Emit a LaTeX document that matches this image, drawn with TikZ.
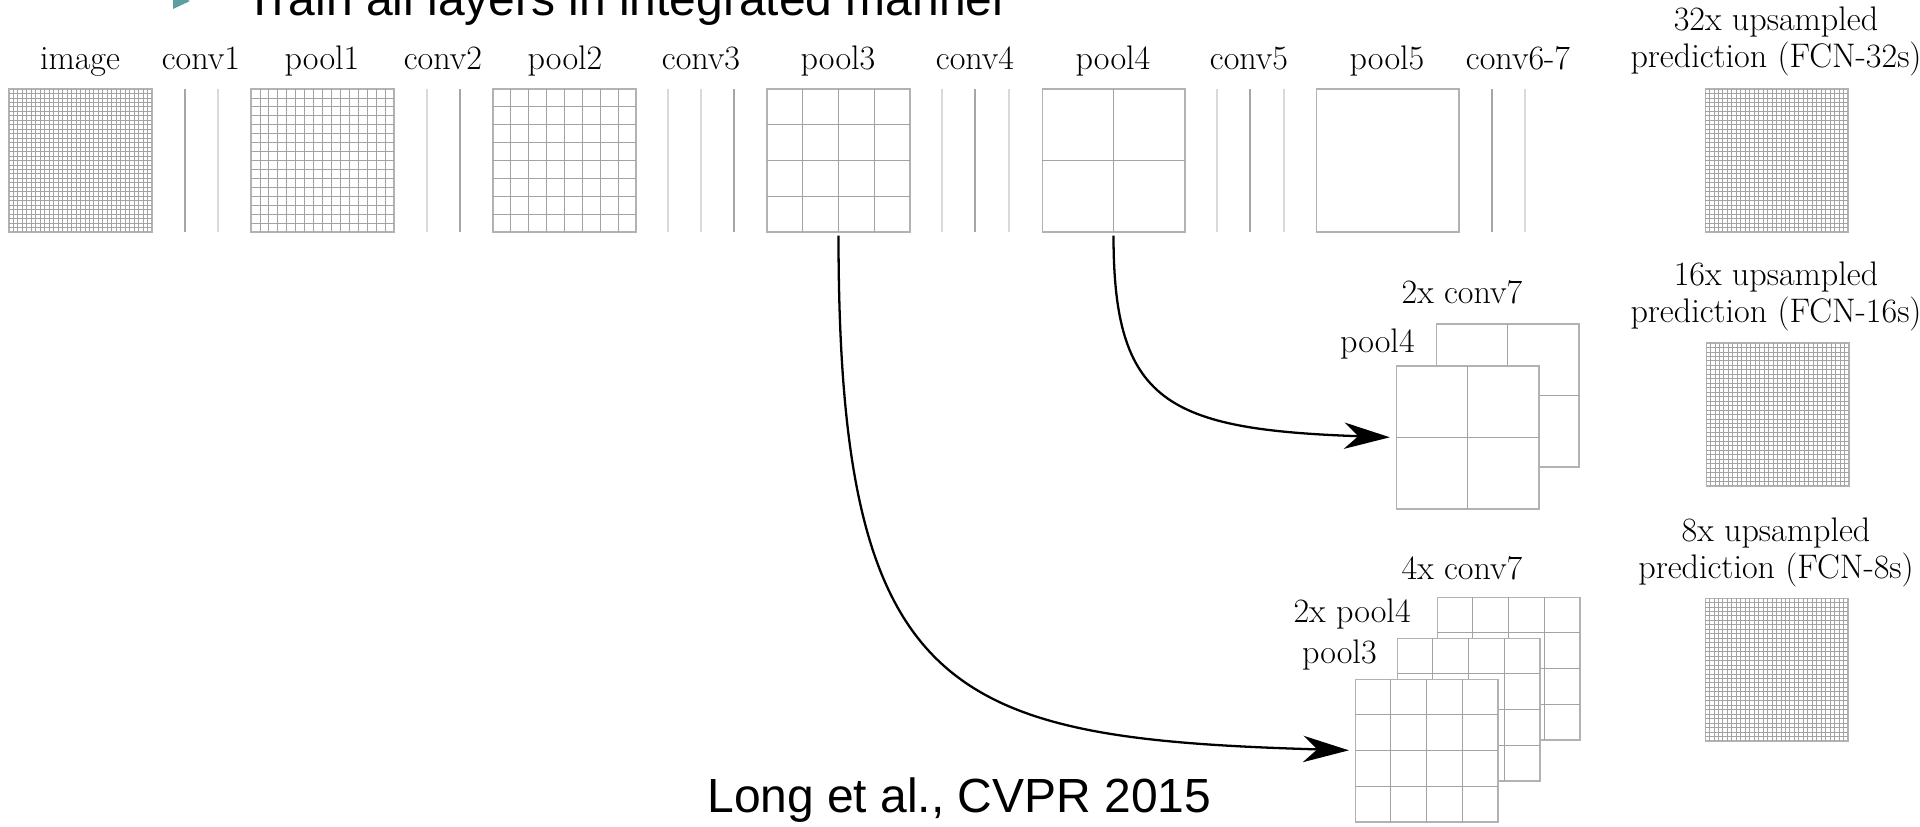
\documentclass[tikz,border=0pt]{standalone}
\usepackage{fontspec}
\newfontfamily\liber{Liberation Sans}
\usetikzlibrary{arrows.meta}
\definecolor{bulletteal}{RGB}{95,158,160}
\tikzset{
  fmap/.style={draw=gray!60, fill=white, minimum size=2.86cm, inner sep=0pt, outer sep=0pt, line width=0.6pt},
  gridline/.style={draw=gray!72, line width=0.5pt},
  convdark/.style={draw=gray!70, line width=0.7pt},
  convlight/.style={draw=gray!30, line width=0.7pt},
  lab/.style={font=\fontsize{19.4}{23}\selectfont, anchor=base, inner sep=0pt},
  labr/.style={font=\fontsize{19.4}{23}\selectfont, anchor=base east, inner sep=0pt},
  big/.style={font=\liber\fontsize{27.3}{32}\selectfont, anchor=base west, inner sep=0pt},
  skip/.style={draw=black, line width=1.3pt, shorten <=2pt, shorten >=3.5pt,
    -{Stealth[length=26pt, width=15pt, inset=8pt]}}
}
\newcommand\fcnmap[4]{%
  \node[fmap] (#1) at ({#2+71.5},{#3+71.5}) {};
  \ifnum#4>1
    \pgfmathtruncatemacro\fcnn{#4-1}%
    \foreach \k in {1,...,\fcnn}{
      \draw[gridline] ({#2+\k*143/#4},#3) -- ({#2+\k*143/#4},{#3+143});
      \draw[gridline] (#2,{#3+\k*143/#4}) -- ({#2+143},{#3+\k*143/#4});
    }
  \fi
}
\begin{document}
\begin{tikzpicture}[x=0.02cm,y=-0.02cm]
\useasboundingbox (0,0) rectangle (1920,826);
% title (cut off at the top)
\fill[bulletteal] (173,-7) -- (173,9) -- (190,1) -- cycle;
\node[big] (title) at (245,15) {Train all layers in integrated manner};
\node[big] (cite) at (707,812) {Long et al., CVPR 2015};

% top row of feature maps
\fcnmap{image}{9}{89}{32}
\fcnmap{pool1}{251}{89}{16}
\fcnmap{pool2}{493}{89}{8}
\fcnmap{pool3}{767}{89}{4}
\fcnmap{pool4}{1042}{89}{2}
\fcnmap{pool5}{1316}{89}{1}
\fcnmap{pred32}{1705}{89}{32}

% conv layers seen edge-on
\draw[convdark] (185,89) -- (185,232);
\draw[convlight] (218,89) -- (218,232);
\draw[convlight] (427,89) -- (427,232);
\draw[convdark] (460,89) -- (460,232);
\draw[convlight] (668,89) -- (668,232);
\draw[convlight] (701,89) -- (701,232);
\draw[convdark] (734,89) -- (734,232);
\draw[convlight] (942,89) -- (942,232);
\draw[convdark] (975,89) -- (975,232);
\draw[convlight] (1009,89) -- (1009,232);
\draw[convlight] (1217,89) -- (1217,232);
\draw[convdark] (1250,89) -- (1250,232);
\draw[convlight] (1284,89) -- (1284,232);
\draw[convdark] (1492,89) -- (1492,232);
\draw[convlight] (1525,89) -- (1525,232);

% top labels
\node[lab] (lImage) at (80,69) {image};
\node[lab] (lConv1) at (201,69) {conv1};
\node[lab] (lPool1) at (322,69) {pool1};
\node[lab] (lConv2) at (443,69) {conv2};
\node[lab] (lPool2) at (565,69) {pool2};
\node[lab] (lConv3) at (701,69) {conv3};
\node[lab] (lPool3) at (838,69) {pool3};
\node[lab] (lConv4) at (975,69) {conv4};
\node[lab] (lPool4) at (1113,69) {pool4};
\node[lab] (lConv5) at (1249,69) {conv5};
\node[lab] (lPool5) at (1387,69) {pool5};
\node[lab] (lConv67) at (1518,69) {conv6-7};
\node[lab] (l32a) at (1776,30) {32x upsampled};
\node[lab] (l32b) at (1776,67) {prediction (FCN-32s)};

% FCN-16s stack
\fcnmap{c7x2}{1436}{324}{2}
\fcnmap{p4a}{1396}{366}{2}
\fcnmap{pred16}{1706}{343}{32}
\node[lab] (l2c7) at (1462,303) {2x conv7};
\node[labr] (lp4a) at (1415,352) {pool4};
\node[lab] (l16a) at (1776,285) {16x upsampled};
\node[lab] (l16b) at (1776,322) {prediction (FCN-16s)};

% FCN-8s stack
\fcnmap{c7x4}{1437}{597}{4}
\fcnmap{p4x2}{1397}{638}{4}
\fcnmap{p3a}{1355}{679}{4}
\fcnmap{pred8}{1705}{598}{32}
\node[lab] (l4c7) at (1462,579) {4x conv7};
\node[labr] (l2p4) at (1411,622) {2x pool4};
\node[labr] (lp3a) at (1377,663) {pool3};
\node[lab] (l8a) at (1776,541) {8x upsampled};
\node[lab] (l8b) at (1776,578) {prediction (FCN-8s)};

% skip connections
\draw[skip] (pool4.south) .. controls +(0,170) and +(-230,-8) .. (p4a.west);
\draw[skip] (pool3.south) .. controls +(0,468) and +(-405,-12) .. (p3a.west);
\end{tikzpicture}
\end{document}
